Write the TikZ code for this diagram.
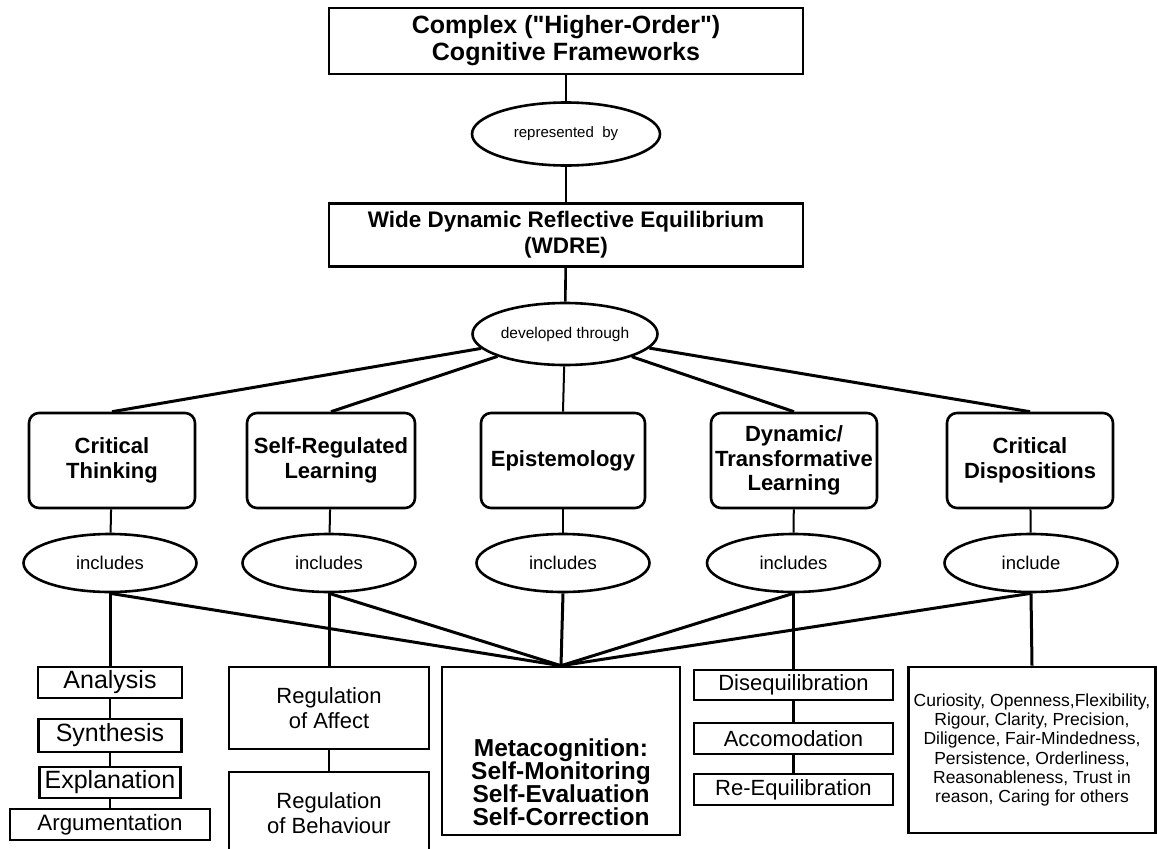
\documentclass[tikz,border=0pt]{standalone}
\usepackage{fontspec}
\setmainfont{Liberation Sans}
\usetikzlibrary{shapes.geometric}
\newcommand\straightquote{\XeTeXglyph\XeTeXcharglyph"22\relax}
\begin{document}
\begin{tikzpicture}[x=1pt,y=-1pt,
  sq/.style={draw, line width=2.6pt, rectangle, inner sep=0pt, align=center},
  rbox/.style={draw, line width=2.6pt, rounded corners=10pt, minimum width=166pt, minimum height=95pt, inner sep=0pt, align=center, font=\fontsize{22pt}{24.5pt}\selectfont\bfseries},
  oval/.style={draw, ellipse, line width=2.6pt, inner sep=0pt},
  incl/.style={oval, minimum width=173pt, minimum height=58pt, font=\fontsize{18.5pt}{20pt}\selectfont},
  chainbox/.style={sq, font=\fontsize{25pt}{27pt}\selectfont},
  midbox/.style={sq, font=\fontsize{22pt}{25pt}\selectfont},
  heavy/.style={line width=3pt},
  medium/.style={line width=2.6pt},
  light/.style={line width=2pt}]
\useasboundingbox (0,0) rectangle (1157,849);

% top part
\node[sq, minimum width=474pt, minimum height=66pt, font=\fontsize{25pt}{27pt}\selectfont\bfseries] (top) at (566,41) {Complex (\straightquote Higher-Order\straightquote)\\Cognitive Frameworks};
\node[oval, minimum width=188pt, minimum height=63pt, font=\fontsize{15pt}{17pt}\selectfont] (rep) at (566,134) {represented\ \ by};
\node[sq, minimum width=474pt, minimum height=63pt, font=\fontsize{22.5pt}{26pt}\selectfont\bfseries] (wdre) at (566,235) {Wide Dynamic Reflective Equilibrium\\(WDRE)};
\node[oval, minimum width=185pt, minimum height=62pt, font=\fontsize{15.5pt}{17pt}\selectfont] (dev) at (565,334) {developed through};

% rounded boxes
\node[rbox] (ct)  at (112,460.5) {Critical\\Thinking};
\node[rbox, minimum width=168pt] (srl) at (331,460.5) {Self-Regulated\\Learning};
\node[rbox, minimum width=164pt] (epi) at (563,460.5) {Epistemology};
\node[rbox] (dtl) at (794,460.5) {Dynamic/\\Transformative\\Learning};
\node[rbox] (cd)  at (1030,460.5) {Critical\\Dispositions};

% includes ellipses
\node[incl] (inc1) at (110,563) {includes};
\node[incl] (inc2) at (329,563) {includes};
\node[incl] (inc3) at (563,563) {includes};
\node[incl] (inc4) at (793.5,563) {includes};
\node[incl] (inc5) at (1031,563) {include};

% bottom: critical thinking chain
\node[chainbox, minimum width=144pt, minimum height=31pt] (ana) at (110,682.5) {Analysis};
\node[chainbox, minimum width=143pt, minimum height=33pt] (syn) at (110,735.5) {Synthesis};
\node[chainbox, minimum width=141pt, minimum height=31pt] (expl) at (110,782.5) {Explanation};
\node[sq, minimum width=200pt, minimum height=31pt, font=\fontsize{22.3pt}{25pt}\selectfont] (arg) at (110,824.5) {Argumentation};

% regulation
\node[midbox, minimum width=200pt, minimum height=82pt] (raff) at (329,708) {Regulation\\of Affect};
\node[midbox, minimum width=200pt, minimum height=83pt] (rbeh) at (329,813.5) {Regulation\\of Behaviour};

% metacognition
\node[sq, minimum width=238pt, minimum height=168pt] (meta) at (561,751) {};
\node[align=center, inner sep=0pt, font=\fontsize{24.5pt}{23pt}\selectfont\bfseries] (metatext) at (561,782) {Metacognition:\\Self-Monitoring\\Self-Evaluation\\Self-Correction};

% transformative chain
\node[midbox, minimum width=199pt, minimum height=30pt] (diseq) at (793.5,685) {Disequilibration};
\node[midbox, minimum width=199pt, minimum height=31pt] (accom) at (793.5,738.5) {Accomodation};
\node[midbox, minimum width=199pt, minimum height=31pt] (reeq) at (793.5,789.5) {Re-Equilibration};

% dispositions
\node[sq, minimum width=247pt, minimum height=166pt, font=\fontsize{17.5pt}{19.3pt}\selectfont] (cur) at (1032,750) {Curiosity, Openness,Flexibility,\\Rigour, Clarity, Precision,\\Diligence, Fair-Mindedness,\\Persistence, Orderliness,\\Reasonableness, Trust in\\reason, Caring for others};

% connectors
\draw[medium] (top) -- (rep);
\draw[medium] (rep) -- (wdre);
\draw[medium] (wdre) -- (dev);

\draw[heavy] (dev) -- (ct.north);
\draw[heavy] (dev) -- (srl.north);
\draw[light] (dev) -- (epi.north);
\draw[heavy] (dev) -- (dtl.north);
\draw[heavy] (dev) -- (cd.north);

\draw[light] (ct) -- (inc1);
\draw[light] (srl) -- (inc2);
\draw[light] (epi) -- (inc3);
\draw[light] (dtl) -- (inc4);
\draw[light] (cd) -- (inc5);

\draw[heavy] (inc1.south) -- (ana.north);
\draw[heavy] (inc1.south) -- (meta.north);
\draw[heavy] (inc2.south) -- (raff.north);
\draw[heavy] (inc2.south) -- (meta.north);
\draw[heavy] (inc3.south) -- (meta.north);
\draw[heavy] (inc4.south) -- (diseq.north);
\draw[heavy] (inc4.south) -- (meta.north);
\draw[heavy] (inc5.south) -- (cur.north);
\draw[heavy] (inc5.south) -- (meta.north);

\draw[medium] (ana) -- (syn);
\draw[medium] (syn) -- (expl);
\draw[medium] (expl) -- (arg);
\draw[medium] (raff) -- (rbeh);
\draw[medium] (diseq) -- (accom);
\draw[medium] (accom) -- (reeq);
\end{tikzpicture}
\end{document}
